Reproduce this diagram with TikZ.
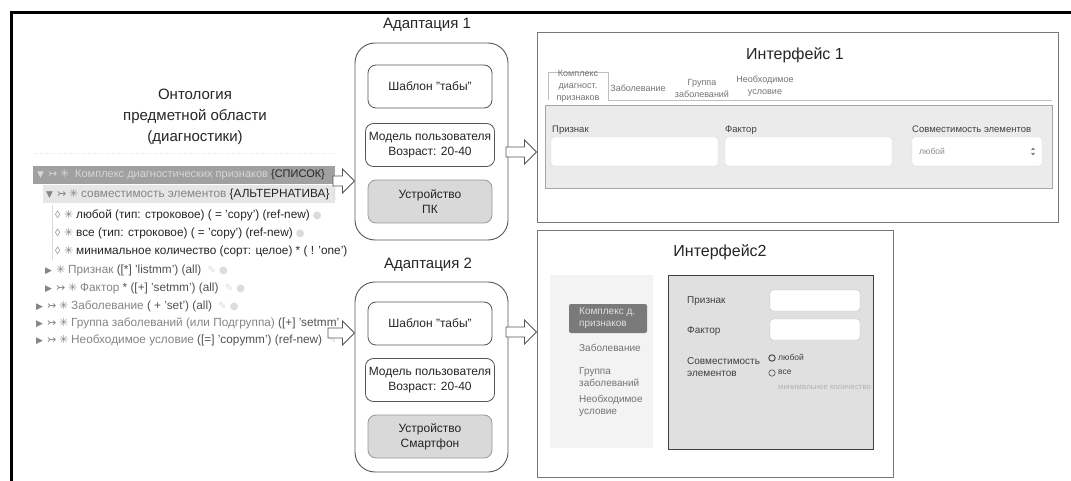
\documentclass[tikz,border=0pt]{standalone}
\usepackage{fontspec}
\setmainfont{Liberation Sans}
\newfontfamily\sym{DejaVu Sans}
\usetikzlibrary{calc}
\definecolor{bxln}{HTML}{555555}
\definecolor{devfill}{HTML}{D9D9D9}
\definecolor{rowdk}{HTML}{A0A0A0}
\definecolor{rowlt}{HTML}{D6D6D6}
\definecolor{rowtwo}{HTML}{E6E6E6}
\definecolor{txgray}{HTML}{858585}
\definecolor{txdk}{HTML}{252525}
\definecolor{iconlt}{HTML}{DCDCDC}
\definecolor{panelone}{HTML}{EBEBEB}
\definecolor{paneltwo}{HTML}{E0E0E0}
\definecolor{navbg}{HTML}{F3F3F3}
\definecolor{btn}{HTML}{7A7A7A}
\newcommand\ozDown{\makebox[11pt][l]{\sym\fontsize{9}{9}\selectfont ▼}}
\newcommand\ozRight{\makebox[11pt][l]{\sym\fontsize{9}{9}\selectfont ▶}}
\newcommand\ozArr{\makebox[12pt][l]{\sym\fontsize{11}{11}\selectfont ↣}}
\newcommand\ozStar{\makebox[12pt][l]{\sym\fontsize{11}{11}\selectfont ✳}}
\newcommand\ozDia{\makebox[9pt][l]{\fontsize{10.5}{10.5}\selectfont ◊}}
\newcommand\ozInfo{{\sym\fontsize{10}{10}\selectfont\color{iconlt}\ ●}}
\newcommand\ozPen{{\sym\fontsize{10}{10}\selectfont\color{iconlt}\ \ ✎}}
\begin{document}
\begin{tikzpicture}[x=1pt,y=-1pt,
  ttl/.style={font=\fontsize{15}{21}\selectfont, text=txdk, align=center, inner sep=0},
  row/.style={anchor=west, inner sep=0, font=\fontsize{11.8}{13}\selectfont},
  outerbox/.style={draw=bxln, line width=0.9pt, rounded corners=20pt, minimum width=153, fill=white},
  innerbox/.style={draw=bxln, line width=0.8pt, rounded corners=8pt, minimum width=124, minimum height=43, align=center, font=\fontsize{12}{15}\selectfont, text=txdk, fill=white},
  devbox/.style={innerbox, fill=devfill, draw=devfill!70!black},
  ifbox/.style={draw=bxln!80, line width=1pt},
  hollow/.style={draw=bxln, fill=white, line width=0.8pt, to path={let \p1=(\tikztostart), \p2=(\tikztotarget) in (\x1,\y1+5pt) -- (\x2-12pt,\y1+5pt) -- (\x2-12pt,\y1+12pt) -- (\x2,\y1) -- (\x2-12pt,\y1-12pt) -- (\x2-12pt,\y1-5pt) -- (\x1,\y1-5pt) -- cycle}},
  lbl/.style={anchor=west, inner sep=0, font=\fontsize{9.5}{11}\selectfont, text=black!75},
  tab/.style={inner sep=0, align=center, font=\fontsize{9}{12}\selectfont, text=black!55},
  inp/.style={draw=black!15, fill=white, rounded corners=3pt},
  nav/.style={anchor=west, inner sep=0, align=left, font=\fontsize{10}{12}\selectfont, text=black!55},
  radio/.style={draw=black!70, line width=0.6pt}
]
\useasboundingbox (0,0) rectangle (1071,481);
\fill[white] (0,0) rectangle (1071,481);
\draw[line width=3pt] (11,481) -- (11,13) -- (1071,13);

% ---------- ontology ----------
\node[ttl] (ont) at (195,117) {Онтология\\предметной области\\(диагностики)};
\draw[black!10, dotted] (35,153) -- (335,153);

\fill[rowdk] (33,166) rectangle (335,184);
\fill[rowtwo] (43,185) rectangle (335,203);
\draw[black!15] (52,205) -- (52,260);
\node[row, text=rowlt, font=\fontsize{11}{13}\selectfont] (r1) at (37,175) {\ozDown\ozArr\makebox[15pt][l]{\sym\fontsize{11}{11}\selectfont ✳}Комплекс диагностических признаков {\color{txdk}\{СПИСОК\}}};
\node[row, text=txgray] (r2) at (46,194) {\ozDown\ozArr\ozStar совместимость элементов {\color{txdk}\{АЛЬТЕРНАТИВА\}} {\color{iconlt}(}};
\node[row, text=txdk] (r3) at (55,215) {{\color{txgray}\ozDia\ozStar}любой (тип: строковое) ( = 'copy') (ref-new)\ozInfo};
\node[row, text=txdk] (r4) at (55,233) {{\color{txgray}\ozDia\ozStar}все (тип: строковое) ( = 'copy') (ref-new)\ozInfo};
\node[row, text=txdk] (r5) at (55,251) {{\color{txgray}\ozDia\ozStar}минимальное количество (сорт: целое) * ( ! 'one')};
\node[row, text=txgray] (r6) at (45,270) {\ozRight\ozStar Признак {\color{txdk!80}([*] 'listmm') (all)}\ozPen\ozInfo};
\node[row, text=txgray] (r7) at (45,288) {\ozRight\ozArr\ozStar Фактор {\color{txdk!80}* ([+] 'setmm') (all)}\ozPen\ozInfo};
\node[row, text=txgray] (r8) at (36,306) {\ozRight\ozArr\ozStar Заболевание {\color{txdk!80}( + 'set') (all)}\ozPen\ozInfo};
\node[row, text=txgray] (r9) at (36,323) {\ozRight\ozArr\ozStar Группа заболеваний (или Подгруппа) {\color{txdk!80}([+] 'setmm'}};
\node[row, text=txgray] (r10) at (36,340) {\ozRight\ozArr\ozStar Необходимое условие {\color{txdk!80}([=] 'copymm') (ref-new)}\ozPen};

% ---------- adaptation 1 ----------
\node[ttl] (ad1t) at (427,25) {Адаптация 1};
\node[outerbox, minimum height=197] (ad1) at (431.5,141.5) {};
\node[innerbox] (a1s1) at (430,86.5) {Шаблон "табы"};
\node[innerbox] (a1s2) at (430,145) {Модель пользователя\\Возраст: 20-40};
\node[devbox] (a1s3) at (430,201.5) {Устройство\\ПК};

% ---------- adaptation 2 ----------
\node[ttl] (ad2t) at (428,265) {Адаптация 2};
\node[outerbox, minimum height=190] (ad2) at (431.5,377) {};
\node[innerbox] (a2s1) at (430,323.5) {Шаблон "табы"};
\node[innerbox] (a2s2) at (430,380) {Модель пользователя\\Возраст: 20-40};
\node[devbox] (a2s3) at (430,436.5) {Устройство\\Смартфон};

% ---------- interface 1 ----------
\node[ifbox, minimum width=521, minimum height=190] (if1) at (797.5,128) {};
\node[ttl, font=\fontsize{16}{20}\selectfont] (if1t) at (795,55) {Интерфейс 1};
\draw[black!25] (548,100) -- (548,72) -- (608,72) -- (608,100) -- (1052,100);
\node[tab] (t1) at (578,86) {Комплекс\\диагност.\\признаков};
\node[tab] (t2) at (638,88) {Заболевание};
\node[tab] (t3) at (702,88) {Группа\\заболеваний};
\node[tab] (t4) at (765,86.5) {Необходимое\\условие};
\node[draw=black!35, fill=panelone, minimum width=507, minimum height=83, inner sep=0] (p1) at (798.5,146.5) {};
\node[lbl] (l1) at (552,130) {Признак};
\node[lbl] (l2) at (725,130) {Фактор};
\node[lbl] (l3) at (912,129) {Совместимость элементов};
\node[inp, minimum width=167, minimum height=29] (i1) at (634.5,151.5) {};
\node[inp, minimum width=167, minimum height=29] (i2) at (808.5,151.5) {};
\node[inp, minimum width=130, minimum height=29] (i3) at (977,151.5) {};
\node[anchor=west, inner sep=0, font=\fontsize{8.5}{10}\selectfont, text=black!45] (sel) at (919,151.5) {любой};
\fill[black!50] (1031,150) -- (1035,150) -- (1033,147.5) -- cycle;
\fill[black!50] (1031,153) -- (1035,153) -- (1033,155.5) -- cycle;

% ---------- interface 2 ----------
\node[ifbox, minimum width=356, minimum height=246] (if2) at (715,354) {};
\node[ttl, font=\fontsize{16}{20}\selectfont] (if2t) at (720,252) {Интерфейс2};
\node[fill=navbg, minimum width=103, minimum height=173, inner sep=0] (nav) at (601.5,361.5) {};
\node[fill=btn, rounded corners=2pt, minimum width=78, minimum height=29, inner sep=0] (btn) at (608,318.5) {};
\node[nav, text=black!12] (n1) at (579,318.5) {Комплекс д.\\признаков};
\node[nav] (n2) at (579,348) {Заболевание};
\node[nav] (n3) at (579,377) {Группа\\заболеваний};
\node[nav] (n4) at (579,406) {Необходимое\\условие};
\node[draw=black!75, line width=0.8pt, fill=paneltwo, minimum width=205, minimum height=174, inner sep=0] (p2) at (770.5,362) {};
\node[lbl, font=\fontsize{10}{12}\selectfont] (m1) at (687,301) {Признак};
\node[lbl, font=\fontsize{10}{12}\selectfont] (m2) at (687,331) {Фактор};
\node[lbl, font=\fontsize{10}{12}\selectfont, align=left] (m3) at (687,367) {Совместимость\\элементов};
\node[inp, draw=black!25, minimum width=90, minimum height=21] (j1) at (815,300.5) {};
\node[inp, draw=black!25, minimum width=90, minimum height=21] (j2) at (815,329.5) {};
\draw[radio, line width=1pt] (772,358) circle (3.2);
\draw[radio] (772,373) circle (3.2);
\draw[black!10] (772,387) circle (3.2);
\node[lbl, font=\fontsize{8.5}{10}\selectfont] (o1) at (778,357.5) {любой};
\node[lbl, font=\fontsize{8.5}{10}\selectfont] (o2) at (778,372.5) {все};
\node[lbl, font=\fontsize{7.8}{10}\selectfont, text=black!30] (o3) at (778,387) {минимальное количество};

% ---------- arrows ----------
\coordinate (s1) at (333,181);
\coordinate (s2) at (328,333);
\coordinate (s3) at (506,152);
\coordinate (s4) at (506,332);
\draw[hollow] (s1) to (ad1.west |- s1);
\draw[hollow] (s2) to (ad2.west |- s2);
\draw[hollow] (s3) to (if1.west |- s3);
\draw[hollow] (s4) to (if2.west |- s4);
\end{tikzpicture}
\end{document}
